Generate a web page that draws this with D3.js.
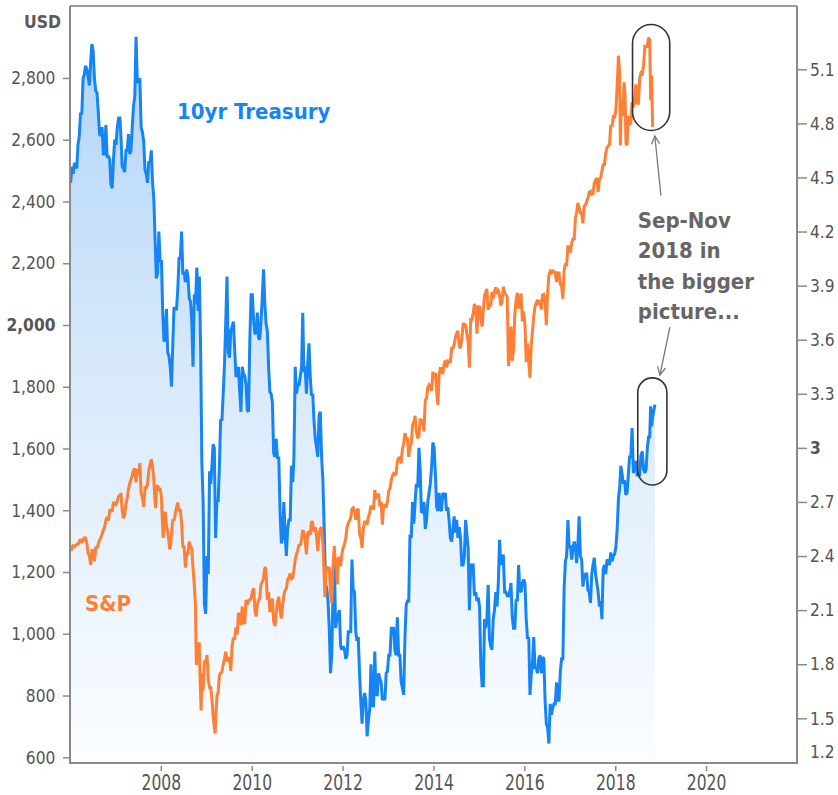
<!DOCTYPE html>
<html>
<head>
<meta charset="utf-8">
<script src="https://cdn.jsdelivr.net/npm/d3@7"></script>
<style>
html, body { margin: 0; padding: 0; background: #fff; }
svg { display: block; }
</style>
</head>
<body>
<svg id="chart" width="838" height="795"></svg>
<script>
// S&P 500 (left axis), one row per month, readings spread over the month
var spx = [
    ["2006-01",1268,1285],["2006-02",1282,1289],["2006-03",1291,1306],["2006-04",1295,1310],
    ["2006-05",1310,1292,1260],["2006-06",1252,1223,1270],["2006-07",1270,1235,1278],["2006-08",1280,1302],
    ["2006-09",1311,1322,1336],["2006-10",1345,1369,1378],["2006-11",1367,1399,1400],["2006-12",1396,1427,1418],
    ["2007-01",1418,1431,1445],["2007-02",1445,1456,1400],["2007-03",1374,1386,1420],["2007-04",1440,1468,1487],
    ["2007-05",1500,1512,1530],["2007-06",1536,1490,1533],["2007-07",1514,1553,1455],["2007-08",1440,1411,1473],
    ["2007-09",1473,1484,1527],["2007-10",1547,1565,1540],["2007-11",1508,1452,1407,1470],["2007-12",1481,1467,1468],
    ["2008-01",1447,1374,1310,1378],["2008-02",1395,1349,1331],["2008-03",1304,1273,1288,1330],["2008-04",1370,1365,1388],
    ["2008-05",1409,1425,1400],["2008-06",1400,1360,1280],["2008-07",1284,1214,1260],["2008-08",1260,1298,1282],
    ["2008-09",1277,1213,1160],["2008-10",1099,899,946,968],["2008-11",968,850,752,870],["2008-12",816,913,903],
    ["2009-01",931,850,825],["2009-02",825,789,735],["2009-03",700,677,753,800],["2009-04",811,865,873],
    ["2009-05",877,900,919],["2009-06",942,911,919],["2009-07",923,880,960],["2009-08",987,980,1021],
    ["2009-09",998,1068,1057],["2009-10",1029,1088,1036],["2009-11",1036,1110,1095],["2009-12",1108,1110,1115],
    ["2010-01",1137,1147,1074],["2010-02",1056,1094,1109],["2010-03",1115,1160,1169],["2010-04",1178,1205,1217,1187],
    ["2010-05",1110,1135,1070],["2010-06",1090,1114,1040],["2010-07",1025,1065,1102],["2010-08",1120,1080,1049],
    ["2010-09",1090,1125,1141],["2010-10",1146,1176,1183],["2010-11",1195,1178,1181],["2010-12",1206,1242,1258],
    ["2011-01",1270,1290,1286],["2011-02",1307,1336,1327],["2011-03",1305,1257,1326],["2011-04",1332,1320,1364],
    ["2011-05",1360,1330,1345],["2011-06",1314,1268,1321],["2011-07",1340,1345,1292],["2011-08",1200,1119,1193,1219],
    ["2011-09",1204,1216,1131],["2011-10",1099,1224,1284],["2011-11",1219,1236,1160,1247],["2011-12",1244,1219,1258],
    ["2012-01",1280,1290,1312],["2012-02",1344,1358,1366],["2012-03",1374,1404,1408],["2012-04",1398,1369,1398],
    ["2012-05",1405,1325,1310],["2012-06",1278,1342,1362],["2012-07",1362,1354,1379],["2012-08",1390,1415,1407],
    ["2012-09",1406,1465,1441],["2012-10",1444,1454,1412],["2012-11",1427,1353,1416],["2012-12",1416,1413,1426],
    ["2013-01",1462,1472,1498],["2013-02",1513,1519,1515],["2013-03",1518,1560,1569],["2013-04",1570,1552,1598],
    ["2013-05",1614,1650,1631],["2013-06",1631,1573,1606],["2013-07",1614,1676,1686],["2013-08",1706,1655,1633],
    ["2013-09",1640,1697,1682],["2013-10",1695,1655,1757],["2013-11",1761,1798,1806],["2013-12",1800,1786,1848],
    ["2014-01",1831,1845,1783],["2014-02",1741,1838,1859],["2014-03",1859,1841,1872],["2014-04",1885,1862,1884],
    ["2014-05",1883,1877,1924],["2014-06",1924,1937,1960],["2014-07",1973,1981,1931],["2014-08",1925,1955,2003],
    ["2014-09",2003,1998,1972],["2014-10",1946,1862,2018],["2014-11",2018,2039,2068],["2014-12",2053,1972,2059],
    ["2015-01",2058,2019,1995],["2015-02",2050,2096,2105],["2015-03",2117,2050,2068],["2015-04",2060,2106,2086],
    ["2015-05",2108,2122,2107],["2015-06",2111,2096,2063],["2015-07",2077,2124,2104],["2015-08",2098,2091,1867],
    ["2015-09",1914,1995,1884],["2015-10",1920,2033,2079],["2015-11",2104,2053,2080],["2015-12",2102,2012,2044],
    ["2016-01",2000,1880,1940],["2016-02",1880,1829,1932],["2016-03",1978,2027,2060],["2016-04",2072,2081,2065],
    ["2016-05",2081,2050,2097],["2016-06",2099,2077,2000],["2016-07",2103,2161,2174],["2016-08",2170,2178,2171],
    ["2016-09",2170,2139,2168],["2016-10",2168,2133,2126],["2016-11",2085,2176,2199],["2016-12",2191,2258,2239],
    ["2017-01",2238,2267,2279],["2017-02",2279,2347,2364],["2017-03",2395,2381,2363],["2017-04",2362,2329,2384],
    ["2017-05",2388,2400,2412],["2017-06",2430,2433,2423],["2017-07",2425,2459,2470],["2017-08",2476,2430,2472],
    ["2017-09",2476,2500,2519],["2017-10",2519,2557,2575],["2017-11",2580,2585,2648],["2017-12",2642,2675,2674],
    ["2018-01",2695,2776,2872],["2018-02",2822,2581,2732,2714],["2018-03",2677,2786,2752,2588],["2018-04",2582,2677,2648],
    ["2018-05",2654,2722,2705],["2018-06",2734,2779,2718],["2018-07",2718,2798,2816],["2018-08",2813,2840,2902],
    ["2018-09",2901,2904,2930],["2018-10",2924,2728,2809,2641]
];

// 10yr Treasury yield (right axis), same layout
var tsy = [
    ["2006-01",4.47,4.56,4.52],["2006-02",4.58,4.57,4.55],["2006-03",4.68,4.73,4.86],["2006-04",4.85,5.05,5.07],
    ["2006-05",5.12,5.10,5.06],["2006-06",5.01,5.14,5.24],["2006-07",5.20,5.05,4.98],["2006-08",4.97,4.86,4.74],
    ["2006-09",4.73,4.78,4.63],["2006-10",4.63,4.79,4.61],["2006-11",4.62,4.60,4.46],["2006-12",4.44,4.60,4.71],
    ["2007-01",4.68,4.78,4.83],["2007-02",4.83,4.72,4.56],["2007-03",4.55,4.53,4.65],["2007-04",4.65,4.74,4.63],
    ["2007-05",4.65,4.78,4.90],["2007-06",4.95,5.28,5.03],["2007-07",5.03,5.05,4.78],["2007-08",4.75,4.70,4.54],
    ["2007-09",4.52,4.47,4.59],["2007-10",4.58,4.65,4.47],["2007-11",4.38,4.15,3.94],["2007-12",3.97,4.20,4.03],
    ["2008-01",4.04,3.75,3.59],["2008-02",3.60,3.77,3.53],["2008-03",3.51,3.45,3.34],["2008-04",3.57,3.78,3.77],
    ["2008-05",3.77,3.88,4.06],["2008-06",4.05,4.20,3.97],["2008-07",3.97,3.92,3.99],["2008-08",3.95,3.83,3.81],
    ["2008-09",3.70,3.45,3.85],["2008-10",3.80,4.00,3.76],["2008-11",3.95,3.55,2.92],["2008-12",2.70,2.13,2.08],
    ["2009-01",2.40,2.30,2.87],["2009-02",2.80,2.90,3.02],["2009-03",3.00,2.50,2.71],["2009-04",2.70,2.90,3.16],
    ["2009-05",3.15,3.30,3.46],["2009-06",3.70,3.95,3.53],["2009-07",3.50,3.65,3.67],["2009-08",3.70,3.55,3.40],
    ["2009-09",3.40,3.45,3.31],["2009-10",3.20,3.45,3.41],["2009-11",3.40,3.35,3.21],["2009-12",3.20,3.60,3.85],
    ["2010-01",3.85,3.70,3.63],["2010-02",3.65,3.75,3.61],["2010-03",3.60,3.70,3.84],["2010-04",3.99,3.80,3.69],
    ["2010-05",3.65,3.45,3.31],["2010-06",3.30,3.25,2.97],["2010-07",2.95,3.05,2.94],["2010-08",2.95,2.65,2.47],
    ["2010-09",2.50,2.70,2.53],["2010-10",2.40,2.55,2.60],["2010-11",2.60,2.90,2.81],["2010-12",2.95,3.45,3.30],
    ["2011-01",3.35,3.35,3.40],["2011-02",3.45,3.75,3.42],["2011-03",3.45,3.30,3.47],["2011-04",3.58,3.40,3.29],
    ["2011-05",3.30,3.15,3.05],["2011-06",3.00,2.95,3.18],["2011-07",3.20,2.95,2.82],["2011-08",2.56,2.25,2.22],
    ["2011-09",2.15,2.00,1.75],["2011-10",1.85,2.20,2.40],["2011-11",2.00,2.05,2.07],["2011-12",2.10,1.90,1.88],
    ["2012-01",1.90,1.88,1.83],["2012-02",1.85,1.98,1.98],["2012-03",1.98,2.38,2.21],["2012-04",2.20,1.98,1.93],
    ["2012-05",1.95,1.75,1.59],["2012-06",1.47,1.60,1.64],["2012-07",1.60,1.40,1.49],["2012-08",1.55,1.80,1.57],
    ["2012-09",1.57,1.87,1.63],["2012-10",1.63,1.75,1.72],["2012-11",1.70,1.60,1.62],["2012-12",1.60,1.75,1.76],
    ["2013-01",1.85,1.85,2.00],["2013-02",2.00,2.00,1.88],["2013-03",1.85,2.06,1.85],["2013-04",1.85,1.70,1.67],
    ["2013-05",1.63,1.95,2.13],["2013-06",2.15,2.15,2.52],["2013-07",2.50,2.70,2.58],["2013-08",2.70,2.80,2.78],
    ["2013-09",3.00,2.88,2.64],["2013-10",2.65,2.70,2.55],["2013-11",2.60,2.70,2.75],["2013-12",2.80,2.89,3.03],
    ["2014-01",3.00,2.85,2.67],["2014-02",2.65,2.75,2.66],["2014-03",2.65,2.75,2.72],["2014-04",2.75,2.65,2.67],
    ["2014-05",2.60,2.50,2.48],["2014-06",2.55,2.62,2.53],["2014-07",2.60,2.50,2.56],["2014-08",2.50,2.35,2.35],
    ["2014-09",2.40,2.60,2.52],["2014-10",2.45,2.10,2.35],["2014-11",2.35,2.35,2.18],["2014-12",2.20,2.15,2.17],
    ["2015-01",2.12,1.80,1.68],["2015-02",1.68,2.05,2.00],["2015-03",2.05,2.24,1.94],["2015-04",1.90,1.88,2.05],
    ["2015-05",2.10,2.20,2.12],["2015-06",2.25,2.49,2.35],["2015-07",2.40,2.40,2.20],["2015-08",2.20,2.18,2.18],
    ["2015-09",2.20,2.25,2.06],["2015-10",2.00,2.00,2.16],["2015-11",2.15,2.35,2.21],["2015-12",2.20,2.25,2.27],
    ["2016-01",2.25,2.05,1.94],["2016-02",1.95,1.63,1.74],["2016-03",1.80,1.95,1.78],["2016-04",1.78,1.75,1.83],
    ["2016-05",1.85,1.75,1.84],["2016-06",1.83,1.60,1.47],["2016-07",1.45,1.36,1.58],["2016-08",1.52,1.56,1.58],
    ["2016-09",1.58,1.70,1.60],["2016-10",1.60,1.76,1.83],["2016-11",1.83,2.22,2.37],["2016-12",2.40,2.60,2.45],
    ["2017-01",2.45,2.38,2.45],["2017-02",2.48,2.45,2.36],["2017-03",2.45,2.62,2.40],["2017-04",2.38,2.23,2.29],
    ["2017-05",2.30,2.30,2.21],["2017-06",2.20,2.14,2.30],["2017-07",2.35,2.39,2.30],["2017-08",2.25,2.20,2.12],
    ["2017-09",2.15,2.05,2.33],["2017-10",2.35,2.30,2.38],["2017-11",2.37,2.35,2.42],["2017-12",2.37,2.40,2.41],
    ["2018-01",2.45,2.55,2.72],["2018-02",2.78,2.90,2.86],["2018-03",2.80,2.82,2.74],["2018-04",2.75,2.85,2.95],
    ["2018-05",2.95,3.11,2.86],["2018-06",2.92,2.92,2.85],["2018-07",2.85,2.85,2.96],["2018-08",2.98,2.88,2.86],
    ["2018-09",2.88,3.00,3.06],["2018-10",3.06,3.23,3.12,3.17],["2018-11",3.24]
];

var leftTicks = [600, 800, 1000, 1200, 1400, 1600, 1800, 2000, 2200, 2400, 2600, 2800];
var rightTicks = [1.5, 1.8, 2.1, 2.4, 2.7, 3, 3.3, 3.6, 3.9, 4.2, 4.5, 4.8, 5.1];
var rightFloorTick = 1.2;
var yearTicks = [2008, 2010, 2012, 2014, 2016, 2018, 2020];
var boldLeft = 2000, boldRight = 3;
var noteLines = ['Sep-Nov', '2018 in', 'the bigger', 'picture...'];

var blue = '#1585f5', orange = '#ff7f35', gray = '#555';
var regFont = 'DejaVu Sans', sq = 'scale(0.86,1)', sqBold = 'scale(0.9,1)';

var svg = d3.select('#chart'),
    plotL = 70, plotR = 797, plotT = 6, plotB = 763;

function toPoints(rows) {
    var pts = [];
    rows.forEach(function(r) {
        var t0 = d3.timeParse('%Y-%m')(r[0]),
            t1 = d3.timeMonth.offset(t0, 1),
            n = r.length - 1;
        for (var k = 0; k < n; k++) {
            pts.push({ date: new Date(+t0 + (k + 0.5) / n * (t1 - t0)), v: r[k + 1] });
        }
    });
    return pts;
}
var spxPts = toPoints(spx), tsyPts = toPoints(tsy);

var x = d3.scaleTime().domain([new Date(2006, 0, 1), new Date(2022, 0, 1)]).range([plotL, plotR]);
var yL = d3.scaleLinear().domain([581.5, 3033]).range([plotB, plotT]);
var yR = d3.scaleLinear().domain([1.252, 5.451]).range([plotB, plotT]);

var defs = svg.append('defs');

// gradient under the treasury line
var grad = defs.append('linearGradient')
    .attr('id', 'fade').attr('gradientUnits', 'userSpaceOnUse')
    .attr('x1', 0).attr('y1', plotT).attr('x2', 0).attr('y2', plotB);
grad.append('stop').attr('offset', 0).attr('stop-color', '#aed3f7');
grad.append('stop').attr('offset', 0.5).attr('stop-color', '#d9eafb');
grad.append('stop').attr('offset', 1).attr('stop-color', '#fbfdff');

defs.append('marker')
    .attr('id', 'head').attr('markerUnits', 'userSpaceOnUse')
    .attr('markerWidth', 20).attr('markerHeight', 20)
    .attr('refX', 0).attr('refY', 0).attr('viewBox', '-10 -10 20 20')
    .attr('orient', 'auto')
    .append('path').attr('d', 'M-8,-4L0,0L-8,4')
    .attr('fill', 'none').attr('stroke', '#777').attr('stroke-width', 1.3);

svg.append('path').datum(tsyPts)
    .attr('fill', 'url(#fade)')
    .attr('d', d3.area().x(d => x(d.date)).y0(plotB).y1(d => yR(d.v)));

svg.append('path').datum(tsyPts)
    .attr('fill', 'none').attr('stroke', blue).attr('stroke-width', 3)
    .attr('stroke-linejoin', 'miter').attr('stroke-miterlimit', 2)
    .attr('d', d3.line().x(d => x(d.date)).y(d => yR(d.v)));

svg.append('path').datum(spxPts)
    .attr('fill', 'none').attr('stroke', orange).attr('stroke-width', 3)
    .attr('stroke-linejoin', 'miter').attr('stroke-miterlimit', 2)
    .attr('d', d3.line().x(d => x(d.date)).y(d => yL(d.v)));

// frame
svg.append('line').attr('x1', plotL).attr('x2', plotR).attr('y1', plotT).attr('y2', plotT)
    .attr('stroke', '#7a7a7a').attr('stroke-width', 1.3);
svg.append('line').attr('x1', plotL).attr('x2', plotL).attr('y1', plotT).attr('y2', plotB)
    .attr('stroke', '#8a8a8a').attr('stroke-width', 2);
svg.append('line').attr('x1', plotR).attr('x2', plotR).attr('y1', plotT).attr('y2', plotB)
    .attr('stroke', '#8a8a8a').attr('stroke-width', 2);
svg.append('line').attr('x1', plotL - 1).attr('x2', plotR + 1).attr('y1', plotB).attr('y2', plotB)
    .attr('stroke', '#8a8a8a').attr('stroke-width', 2);

function styleAxis(g, size, squeeze) {
    g.select('.domain').remove();
    g.selectAll('.tick line').attr('stroke', '#8a8a8a').attr('stroke-width', 1.5);
    g.selectAll('.tick text')
        .attr('fill', gray).style('font-family', regFont).style('font-size', size + 'px')
        .attr('transform', squeeze);
}

var gL = svg.append('g').attr('transform', 'translate(' + plotL + ',0)')
    .call(d3.axisLeft(yL).tickValues(leftTicks).tickSize(7).tickPadding(10).tickFormat(d3.format(',')))
    .call(styleAxis, 18, sq);
gL.selectAll('.tick text').filter(d => d === boldLeft).style('font-weight', 'bold');

var gR = svg.append('g').attr('transform', 'translate(' + plotR + ',0)')
    .call(d3.axisRight(yR).tickValues(rightTicks).tickSize(10).tickPadding(5).tickFormat(d3.format('')))
    .call(styleAxis, 18, sq);
gR.selectAll('.tick text').filter(d => d === boldRight).style('font-weight', 'bold');

// lowest right label sits below the axis range, pinned to the floor
gR.append('text')
    .attr('transform', 'translate(0,' + Math.min(yR(rightFloorTick), plotB - 11) + ') ' + sq)
    .attr('x', 15).attr('dy', '0.32em')
    .attr('fill', gray).style('font-family', regFont).style('font-size', '18px')
    .text(rightFloorTick);

svg.append('g').attr('transform', 'translate(0,' + (plotB + 3) + ')')
    .call(d3.axisBottom(x).tickValues(yearTicks.map(y => new Date(y, 0, 1)))
        .tickSize(5).tickPadding(4).tickFormat(d3.timeFormat('%Y')))
    .call(styleAxis, 20.5, 'scale(0.76,1)');

function boldText(txt, px, py, color, size) {
    return svg.append('text')
        .attr('transform', 'translate(' + px + ',' + py + ') ' + sqBold)
        .attr('dy', '0.35em')
        .attr('fill', color).style('font-family', regFont)
        .style('font-weight', 'bold').style('font-size', size + 'px')
        .text(txt);
}

boldText('USD', 61, 22, '#5a5a5a', 17.4).attr('text-anchor', 'end');
boldText('10yr Treasury', x(new Date(2008, 4, 10)), yR(4.865), blue, 22);
boldText('S&P', x(new Date(2006, 4, 1)), yL(1100), orange, 22);

// annotation: note text, capsules and arrows
var noteX = x(new Date(2018, 6, 1)), noteY = yR(4.264);
noteLines.forEach(function(s, i) {
    boldText(s, noteX, noteY + i * 30.5, '#666', 22);
});

function capsule(d0, d1, y0, y1) {
    var w = x(d1) - x(d0), h = y1 - y0;
    svg.append('rect')
        .attr('x', x(d0)).attr('y', y0).attr('width', w).attr('height', h)
        .attr('rx', w / 2).attr('ry', w / 2)
        .attr('fill', 'none').attr('stroke', '#333').attr('stroke-width', 1.6);
}
capsule(new Date(2018, 4, 20), new Date(2019, 2, 15), yL(2973), yL(2630));
capsule(new Date(2018, 6, 1), new Date(2019, 1, 20), yR(3.388), yR(2.794));

function arrow(d0, v0, d1, v1) {
    svg.append('line')
        .attr('x1', x(d0)).attr('y1', yR(v0)).attr('x2', x(d1)).attr('y2', yR(v1))
        .attr('stroke', '#777').attr('stroke-width', 1.3)
        .attr('marker-end', 'url(#head)');
}
arrow(new Date(2019, 0, 3), 4.40, new Date(2018, 10, 15), 4.73);
arrow(new Date(2019, 2, 16), 3.67, new Date(2018, 11, 26), 3.404);
</script>
</body>
</html>
